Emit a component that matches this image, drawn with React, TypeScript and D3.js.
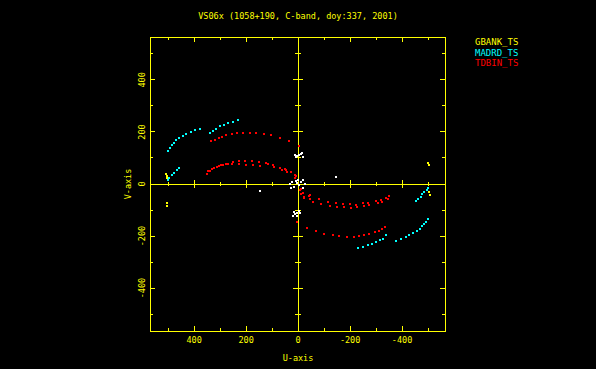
import React, { useEffect } from "react";
import * as d3 from "d3";

const title = "VS06x (1058+190, C-band, doy:337, 2001)";
const stations = ["GBANK_TS", "MADRD_TS", "TDBIN_TS"];
const stationColors = ["#ffff00", "#00ffff", "#ff0000"];
const tickValues = [-400, -200, 0, 200, 400];

// [u, v] in kilo-lambda
const gbank: [number, number][] = [
  [510, 40], [506, 31], [503, 23], [506, -74], [503, -83],
  [-501, 82], [-505, 72], [-503, -32], [-508, -42],
];

const madrd: [number, number][] = [
  [501, 128], [492, 140], [486, 150], [478, 159], [469, 169], [458, 178],
  [444, 186], [431, 193], [414, 201], [396, 209], [377, 213],
  [338, 196], [328, 203], [315, 213], [300, 222], [286, 228], [269, 233],
  [250, 240], [232, 245],
  [501, 14], [495, 24], [487, 33], [478, 43], [468, 54], [458, 63],
  [-231, -247], [-250, -241], [-268, -235], [-285, -230], [-300, -223],
  [-313, -217], [-326, -210], [-338, -197],
  [-377, -218], [-395, -212], [-414, -203], [-427, -196], [-442, -190],
  [-456, -181], [-469, -172], [-477, -162], [-486, -154], [-491, -145], [-498, -133],
  [-454, -65], [-463, -56], [-472, -49], [-478, -40], [-486, -32], [-494, -23], [-501, -17],
];

const tdbin: [number, number][] = [
  [335, 165], [320, 171], [306, 177], [292, 182], [276, 187], [256, 192],
  [235, 196], [213, 197], [187, 197], [163, 196], [133, 194], [103, 187],
  [70, 178], [37, 165], [-3, 146],
  [349, 40], [338, 51], [323, 62], [306, 68], [290, 74], [269, 78], [249, 83],
  [226, 87], [204, 88], [178, 87], [150, 85], [123, 80], [95, 72], [69, 63],
  [46, 53], [27, 45], [12, 36],
  [347, 49], [332, 58], [313, 64], [297, 72], [277, 76], [253, 78], [227, 77],
  [201, 74], [174, 74], [146, 70], [117, 76], [92, 64], [63, 54], [41, 46],
  [50, 57], [9, 31], [12, 22],
  [-10, -18], [-19, -36], [-23, -51], [-45, -42], [-45, -59], [-8, -23],
  [-24, -54], [-59, -69], [-88, -77], [-121, -83], [-150, -87], [-178, -90],
  [-204, -92], [-227, -90], [-253, -86], [-274, -80], [-306, -74], [-323, -69], [-346, -56],
  [-12, -38], [-43, -45], [-82, -59], [-114, -69], [-144, -74], [-172, -77],
  [-200, -77], [-223, -80], [-249, -74], [-268, -73], [-300, -67], [-319, -62],
  [-338, -54], [-349, -46],
  [-35, -169], [-69, -182], [-101, -191], [-133, -197], [-159, -201], [-187, -204],
  [-213, -203], [-233, -200], [-255, -195], [-274, -191], [-294, -186], [-310, -180],
  [-323, -174], [-336, -167], [3, -147], [-33, -168],
];

const other: [number, number][] = [
  [8, 103], [3, 108], [-3, 112], [-10, 116], [-16, 119], [-19, 104], [12, 110],
  [31, -1], [22, 6], [9, 12], [0, 15], [-10, 9], [-20, 15], [-26, -1], [-4, -4],
  [15, -10], [28, -14], [-17, -14], [5, 4],
  [-4, -104], [3, -110], [12, -117], [18, -123], [5, -122], [-8, -110], [15, -106],
  [146, -28], [-145, 27],
];

const series = [
  { pts: other, color: "#ffffff" },
  { pts: gbank, color: stationColors[0] },
  { pts: madrd, color: stationColors[1] },
  { pts: tdbin, color: stationColors[2] },
];

const W = 596, H = 369;
const left = 150, right = 445, top = 37, bottom = 331;
const font = "DejaVu Sans Mono, monospace";
const yellow = "#ffff00";

export default function App() {
  useEffect(() => {
    document.body.style.margin = "0";
    document.body.style.background = "#000";
  }, []);

  const x = d3.scaleLinear().domain([570, -565]).range([left, right]);
  const y = d3.scaleLinear().domain([-565, 565]).range([bottom, top]);
  const all = d3.range(-500, 501, 100);
  const len = (v: number) => (v % 200 === 0 ? 5 : 3);

  return (
    <svg width={W} height={H} style={{ display: "block", background: "#000" }}>
      <rect width={W} height={H} fill="#000" />
      <text x={298} y={19} fill={yellow} fontFamily={font} fontSize={8.5} textAnchor="middle">
        {title}
      </text>
      {stations.map((s, i) => (
        <text key={s} x={475} y={45 + i * 10.5} fill={stationColors[i]} fontFamily={font} fontSize={9}>
          {s}
        </text>
      ))}
      <g stroke={yellow} strokeWidth={1} shapeRendering="crispEdges">
        <rect x={left} y={top} width={right - left} height={bottom - top} fill="none" />
        <line x1={left} x2={right} y1={y(0)} y2={y(0)} />
        <line x1={x(0)} x2={x(0)} y1={top} y2={bottom} />
        {all.map((v) => (
          <g key={v}>
            <line x1={x(v)} x2={x(v)} y1={bottom} y2={bottom - len(v)} />
            <line x1={x(v)} x2={x(v)} y1={top} y2={top + len(v)} />
            <line x1={x(v)} x2={x(v)} y1={y(0) - len(v) + 1} y2={y(0) + len(v) - 1} />
            <line x1={left} x2={left + len(v)} y1={y(v)} y2={y(v)} />
            <line x1={right} x2={right - len(v)} y1={y(v)} y2={y(v)} />
            <line x1={x(0) - len(v)} x2={x(0) + len(v)} y1={y(v)} y2={y(v)} />
          </g>
        ))}
      </g>
      {tickValues.map((v) => (
        <text key={"xl" + v} x={x(v)} y={343} fill={yellow} fontFamily={font} fontSize={8.5} textAnchor="middle">
          {v}
        </text>
      ))}
      {tickValues.map((v) => (
        <text
          key={"yl" + v}
          transform={`translate(145,${y(v)}) rotate(-90)`}
          fill={yellow}
          fontFamily={font}
          fontSize={8.5}
          textAnchor="middle"
        >
          {v}
        </text>
      ))}
      <text x={298} y={361} fill={yellow} fontFamily={font} fontSize={8.5} textAnchor="middle">
        U-axis
      </text>
      <text transform="translate(131,184) rotate(-90)" fill={yellow} fontFamily={font} fontSize={8.5} textAnchor="middle">
        V-axis
      </text>
      {series.map((s, i) => (
        <g key={i} fill={s.color} shapeRendering="crispEdges">
          {s.pts.map((p, j) => (
            <rect key={j} x={Math.round(x(p[0])) - 1} y={Math.round(y(p[1])) - 1} width={2} height={2} />
          ))}
        </g>
      ))}
    </svg>
  );
}
